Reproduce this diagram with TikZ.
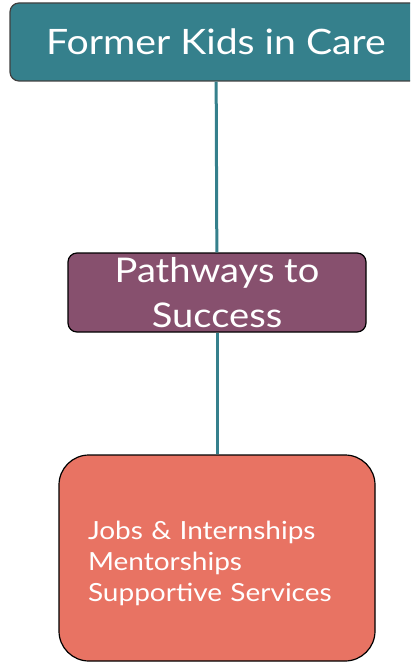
\documentclass[tikz,border=0pt]{standalone}
\usepackage{fontspec}
\setmainfont{Lato}[FakeStretch=1.12]
\usetikzlibrary{positioning}
\definecolor{tealbox}{HTML}{35808C}
\definecolor{plumbox}{HTML}{87506E}
\definecolor{coralbox}{HTML}{E87363}

\begin{document}
\begin{tikzpicture}[x=1pt,y=-1pt,every node/.style={shape=rectangle,draw,
		text=white,inner sep=0pt},
		link/.style={draw=tealbox,line width=3pt}]
		\clip (0,0) rectangle (410,663);
		% create the nodes.
		\node (former) [fill=tealbox,draw=black!75,line width=1.2pt,rounded corners=9pt,
			minimum width=412pt,minimum height=78pt,font=\fontsize{35}{40}\selectfont]
			at (216,42) {Former Kids in Care};
		\node (pathways) [fill=plumbox,line width=1.2pt,rounded corners=9pt,
			minimum width=298pt,minimum height=79pt,align=center,
			font=\fontsize{34}{45}\selectfont] at (217,292.5) {Pathways to\\Success};
		\node (services) [fill=coralbox,line width=1.2pt,rounded corners=30pt,
			minimum width=316pt,minimum height=206pt,text width=258pt,align=left,
			text height=30pt,font=\fontsize{25}{31}\selectfont] at (217,558)
			{Jobs \& Internships\\Mentorships\\Supportive Services};

		% connect the nodes
		\draw[link] (former) -- (pathways);
		\draw[link] (pathways) -- (services);
	\end{tikzpicture}
\end{document}
